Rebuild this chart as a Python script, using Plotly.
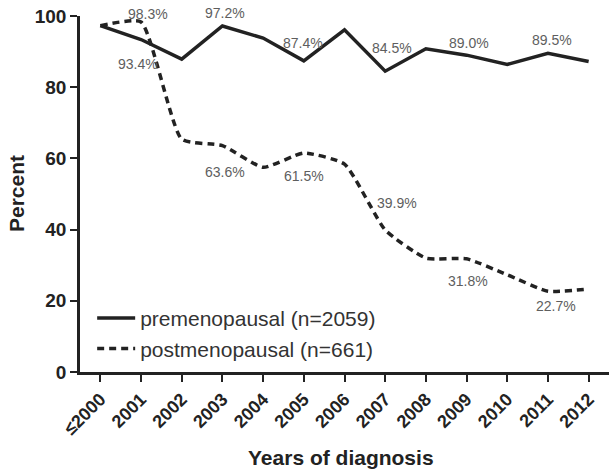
"""Percent by year of diagnosis, pre- vs postmenopausal."""

import plotly.graph_objects as go

years = ["≤2000", "2001", "2002", "2003", "2004", "2005", "2006",
         "2007", "2008", "2009", "2010", "2011", "2012"]
pre_values = [97.3, 93.4, 87.9, 97.2, 93.8, 87.4, 96.1,
              84.5, 90.8, 89.0, 86.4, 89.5, 87.2]
post_values = [97.3, 98.3, 65.4, 63.6, 57.5, 61.5, 58.4,
               39.9, 32.0, 31.8, 27.3, 22.7, 23.3]
pre_name = "premenopausal (n=2059)"
post_name = "postmenopausal (n=661)"

# which points carry a value label, and the label offset in px (dx, dy)
pre_label_offsets = {1: (-3, -24), 3: (3, 13), 5: (-1, 18),
                     7: (7, 23), 9: (2, 12), 11: (4, 13)}
post_label_offsets = {1: (7, 8), 3: (3, -26), 5: (0, -23),
                      7: (12, 27), 9: (1, -22), 11: (8, -15)}

FONT = "Liberation Sans, Arial, sans-serif"
INK = "#222222"

fig = go.Figure()

fig.add_trace(go.Scatter(
    x=years, y=pre_values, mode="lines", name=pre_name,
    line=dict(color=INK, width=3.5),
))
fig.add_trace(go.Scatter(
    x=years, y=post_values, mode="lines", name=post_name,
    line=dict(color=INK, width=3.5, dash="7px,5px", shape="spline", smoothing=0.5),
))

annotations = []
for values, offsets in ((pre_values, pre_label_offsets), (post_values, post_label_offsets)):
    for i, (dx, dy) in offsets.items():
        # numeric index: category names like "2001" would be read as positions
        annotations.append(dict(
            x=i, y=values[i], text=f"{values[i]:.1f}%",
            showarrow=False, xshift=dx, yshift=dy,
            xanchor="center", yanchor="middle",
            font=dict(family=FONT, size=14, color="#5e5e5e"),
        ))

# axis titles
annotations.append(dict(
    xref="paper", yref="paper", x=0.5, y=0, yshift=-85, xshift=-4,
    xanchor="center", yanchor="middle",
    text="<b>Years of diagnosis</b>", showarrow=False,
    font=dict(family=FONT, size=21, color=INK),
))
annotations.append(dict(
    xref="paper", yref="paper", x=0, y=0.5, xshift=-64,
    xanchor="center", yanchor="middle",
    text="<b>Percent</b>", textangle=-90, showarrow=False,
    font=dict(family=FONT, size=21, color=INK),
))

fig.update_layout(
    width=609, height=475,
    margin=dict(l=80, r=0, t=16, b=103),
    plot_bgcolor="white", paper_bgcolor="white",
    showlegend=True,
    legend=dict(
        x=0.023, y=0.208, xanchor="left", yanchor="top",
        bgcolor="rgba(0,0,0,0)", itemwidth=38, tracegroupgap=0,
        font=dict(family=FONT, size=21, color="#333333"),
    ),
    annotations=annotations,
    xaxis=dict(
        type="category", range=[-0.5, 12.5], automargin=False,
        showgrid=False, zeroline=False,
        showline=True, linecolor=INK, linewidth=2.5,
        ticks="outside", ticklen=7, tickwidth=2, tickcolor=INK,
        tickangle=-45,
        tickfont=dict(family=FONT, size=18, color=INK, weight="bold"),
    ),
    yaxis=dict(
        range=[0, 100], tickvals=[0, 20, 40, 60, 80, 100], automargin=False,
        showgrid=False, zeroline=False,
        showline=True, linecolor=INK, linewidth=2.5,
        ticks="outside", ticklen=7, tickwidth=2, tickcolor=INK,
        tickfont=dict(family=FONT, size=19, color=INK, weight="bold"),
    ),
)

# the page's default body margin would push the figure 8px down and right
fig.write_html(
    "out.html",
    config={"displayModeBar": False},
    post_script="document.body.style.margin = '0';",
)
